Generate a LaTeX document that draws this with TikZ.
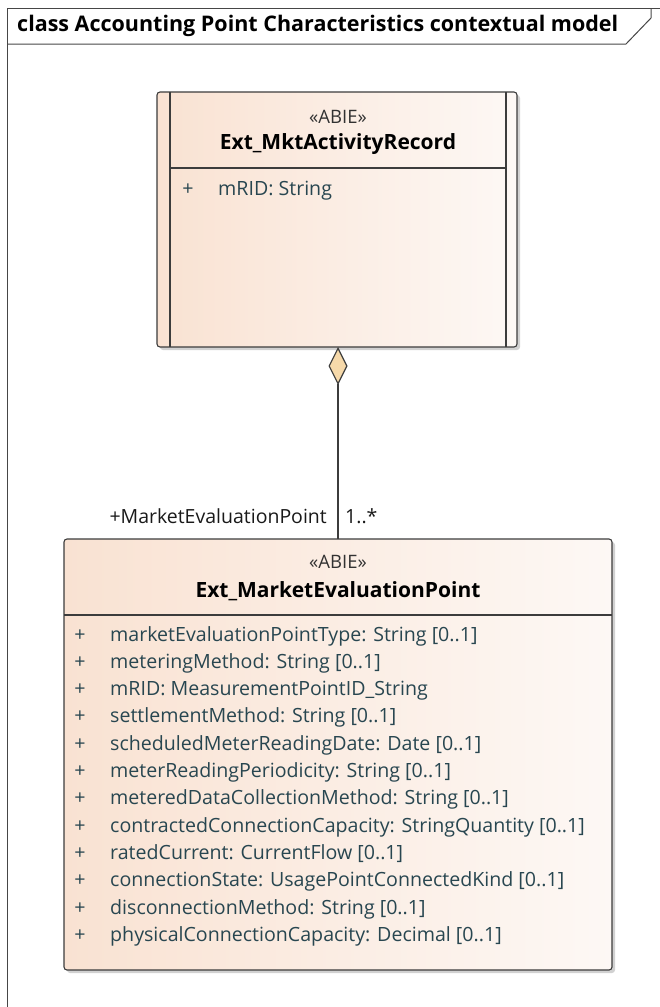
\documentclass[tikz,border=0pt]{standalone}
\usepackage{fontspec}
\setmainfont{Open Sans}
\usetikzlibrary{arrows.meta,shadows,positioning}
\definecolor{peachL}{RGB}{249,226,210}
\definecolor{peachR}{RGB}{253,248,245}
\definecolor{framecol}{RGB}{70,70,70}
\definecolor{boxcol}{RGB}{60,60,60}
\definecolor{attrcol}{RGB}{40,70,80}
\definecolor{stereocol}{RGB}{50,50,50}
\definecolor{diamcol}{RGB}{246,217,170}
\tikzset{
  classbox/.style={draw=boxcol, line width=1.1pt, rounded corners=3pt,
    left color=peachL, right color=peachR, shading angle=90,
    drop shadow={shadow xshift=3pt, shadow yshift=-3pt, fill=black!30, opacity=0.6},
    inner sep=0pt, outer sep=0pt},
  stereo/.style={font=\fontsize{18.5}{20}\selectfont, text=stereocol, anchor=base, inner sep=0pt},
  cname/.style={font=\fontsize{21}{23}\selectfont\bfseries, text=black, anchor=base, inner sep=0pt},
  attr/.style={font=\fontsize{19.6}{21}\selectfont, text=attrcol, anchor=base west, inner sep=0pt},
  vis/.style={font=\fontsize{19.6}{21}\selectfont, text=attrcol, anchor=base, inner sep=0pt},
  role/.style={font=\fontsize{19.5}{21}\selectfont, text=black!90, inner sep=0pt},
  sepline/.style={draw=boxcol, line width=1.1pt},
}
\begin{document}
\begin{tikzpicture}[x=1pt,y=-1pt]
\useasboundingbox (0,0) rectangle (659,1007);
% frame
\draw[framecol, line width=1pt] (7,1012) -- (7,8) -- (662,8);
\draw[framecol, line width=1pt] (7,44) -- (626,44) -- (651,18) -- (651,8);
\node[font=\fontsize{21.5}{23}\selectfont\bfseries, anchor=base west, inner sep=0pt] (title) at (17,31) {class Accounting Point Characteristics contextual model};

% upper class
\node[classbox, minimum width=360pt, minimum height=255pt] (rec) at (337,219.5) {};
\draw[sepline] (170,92) -- (170,347);
\draw[sepline] (506,92) -- (506,347);
\draw[sepline] (170,168) -- (506,168);
\node[stereo] (recst) at (338,123) {«ABIE»};
\node[cname] (recnm) at (338,149) {Ext\_MktActivityRecord};
\node[vis] (recp1) at (188,195) {+};
\node[attr] (reca1) at (218,195) {mRID: String};

% lower class
\node[classbox, minimum width=548pt, minimum height=431pt] (mep) at (338,754.5) {};
\draw[sepline] (64,615) -- (612,615);
\node[stereo] (mepst) at (338,568) {«ABIE»};
\node[cname] (mepnm) at (338,597) {Ext\_MarketEvaluationPoint};
\foreach \t [count=\i from 0] in {
  {marketEvaluationPointType: String [0..1]},
  {meteringMethod: String [0..1]},
  {mRID: MeasurementPointID\_String},
  {settlementMethod: String [0..1]},
  {scheduledMeterReadingDate: Date [0..1]},
  {meterReadingPeriodicity: String [0..1]},
  {meteredDataCollectionMethod: String [0..1]},
  {contractedConnectionCapacity: StringQuantity [0..1]},
  {ratedCurrent: CurrentFlow [0..1]},
  {connectionState: UsagePointConnectedKind [0..1]},
  {disconnectionMethod: String [0..1]},
  {physicalConnectionCapacity: Decimal [0..1]}}{
  \node[vis] (mepp\i) at (80,641+27.3*\i) {+};
  \node[attr] (mepa\i) at (110,641+27.3*\i) {\t};
}

% aggregation
\draw[boxcol, line width=1.2pt, {Diamond[length=38pt, width=19pt, fill=diamcol]}-] (rec.south -| mep.north) -- (mep.north);
\node[role, anchor=base east] (rolename) at (327,523) {+MarketEvaluationPoint};
\node[role, anchor=base west] (mult) at (345,523) {1..*};
\end{tikzpicture}
\end{document}
